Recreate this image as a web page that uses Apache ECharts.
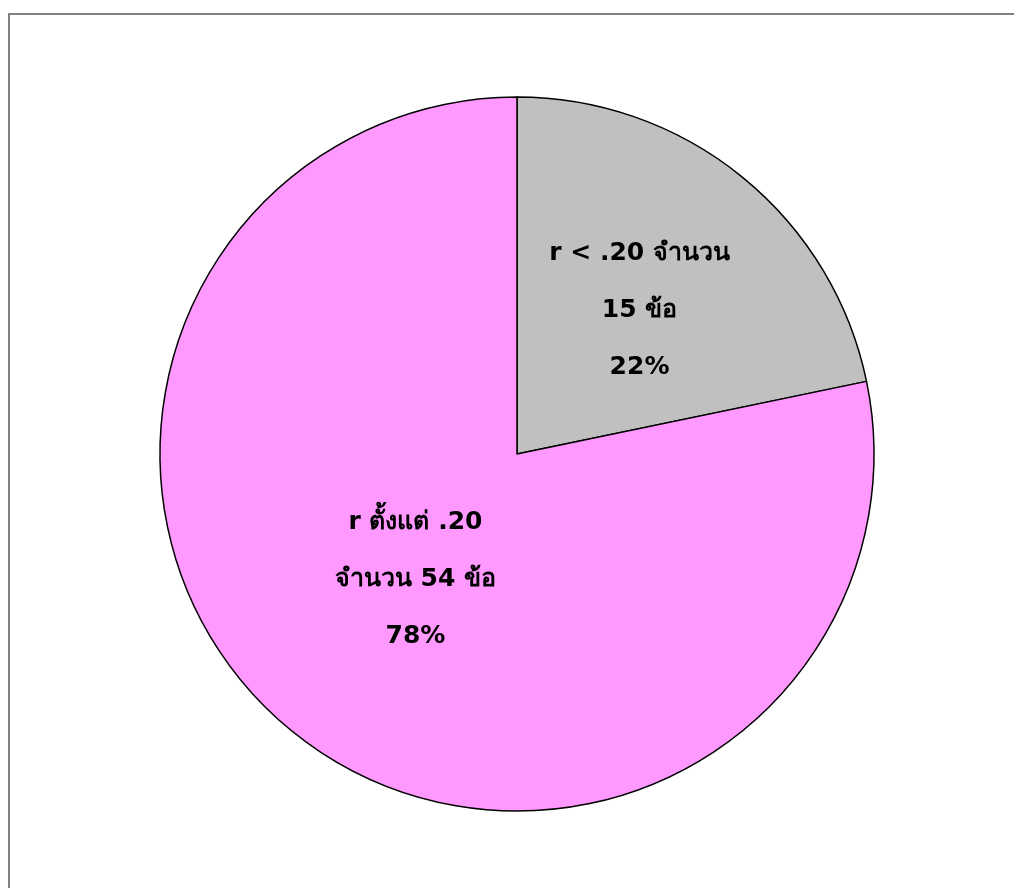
<!DOCTYPE html>
<html>
<head>
<meta charset="utf-8">
<script src="https://cdn.jsdelivr.net/npm/echarts@6/dist/echarts.min.js"></script>
<style>
  html, body { margin: 0; padding: 0; background: #fff; }
  #chart { width: 1014px; height: 888px; }
</style>
</head>
<body>
<div id="chart"></div>
<script>
// slice data
const sliceNames = ['r < .20 จำนวน\n', 'r ตั้งแต่ .20\nจำนวน '];
const sliceValues = [15, 54];
const sliceColors = ['#C0C0C0', '#FF99FF'];

const total = sliceValues.reduce((a, b) => a + b, 0);

const chart = echarts.init(document.getElementById('chart'));

// nudge labels to where they sit in the original
const labelOffsets = [[8, -3], [13, -15]];

chart.setOption({
    backgroundColor: '#fff',
    animation: false,
    graphic: [{
        type: 'rect',
        shape: { x: 9, y: 14, width: 1100, height: 1000 },
        style: { fill: 'none', stroke: '#808080', lineWidth: 2 },
        silent: true,
    }],
    series: [{
        type: 'pie',
        center: [517, 454],
        radius: 357,
        startAngle: 90,
        clockwise: true,
        silent: true,
        itemStyle: { borderColor: '#000', borderWidth: 1.5 },
        label: {
            position: 'inside',
            color: '#000',
            fontSize: 25,
            fontWeight: 'bold',
            fontFamily: '"DejaVu Sans", "Noto Sans", sans-serif',
            lineHeight: 57,
            align: 'center',
            formatter: (p) => `${p.name}${p.value} ข้อ\n${Math.round(p.value / total * 100)}%`,
        },
        labelLine: { show: false },
        data: sliceNames.map((name, i) => ({
            name,
            value: sliceValues[i],
            itemStyle: { color: sliceColors[i] },
            label: { offset: labelOffsets[i] },
        })),
    }],
});
</script>
</body>
</html>
